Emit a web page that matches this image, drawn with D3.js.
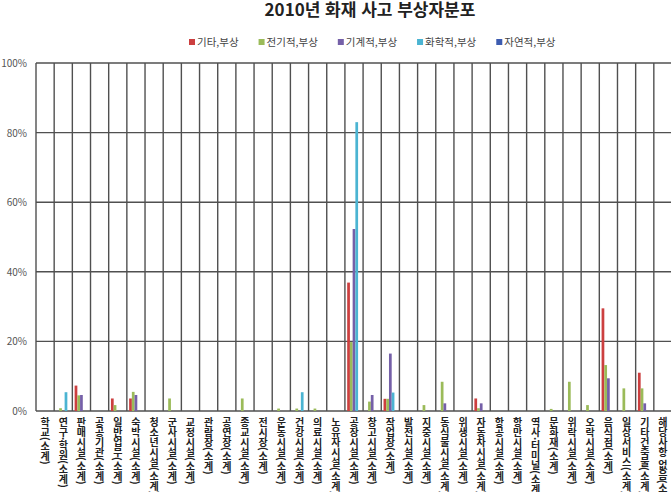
<!DOCTYPE html>
<html lang="ko">
<head>
  <meta charset="UTF-8">
  <title>2010년 화재 사고 부상자분포</title>
  <script src="https://d3js.org/d3.v7.min.js"></script>
  <style>
    body { margin: 0; background: #fff; }
    svg { display: block; font-family: "Noto Sans CJK KR", "Noto Sans", sans-serif; }
    .grid-line { stroke: #505050; stroke-width: 1.4; }
  </style>
</head>
<body>
<script>
  // Data (percent of injuries per building type, 2010)
  const categories = ['학교(소계)', '연구·학원(소계)', '판매시설(소계)', '공공기관(소계)', '일반업무(소계)',
    '숙박시설(소계)', '청소년시설(소계)', '군사시설(소계)', '교정시설(소계)', '관람장(소계)', '공연장(소계)',
    '종교시설(소계)', '전시장(소계)', '운동시설(소계)', '건강시설(소계)', '의료시설(소계)', '노유자시설(소계)',
    '공장시설(소계)', '창고시설(소계)', '작업장(소계)', '발전시설(소계)', '지중시설(소계)', '동식물시설(소계)',
    '위생시설(소계)', '자동차시설(소계)', '항공시설(소계)', '항만시설(소계)', '역사·터미널(소계)', '문화재(소계)',
    '위락시설(소계)', '오락시설(소계)', '음식점(소계)', '일상서비스(소계)', '기타건축물(소계)', '해당사항 없음(소계)'];

  const seriesNames = ['기타,부상', '전기적,부상', '기계적,부상', '화학적,부상', '자연적,부상'];

  const etcValues      = [0, 0, 7.3, 0, 3.6, 3.6, 0, 0, 0, 0, 0, 0, 0, 0, 0, 0, 0, 36.9, 0, 3.5, 0, 0, 0, 0, 3.6, 0, 0, 0, 0, 0, 0, 29.5, 0, 11.0, 0];
  const electricValues = [0, 0.8, 4.5, 0, 1.7, 5.5, 0, 3.6, 0, 0, 0, 3.6, 0, 0.7, 0.7, 0.7, 0, 19.8, 2.7, 3.5, 0, 1.7, 8.4, 0, 0.8, 0, 0, 0, 0.6, 8.4, 1.7, 13.2, 6.5, 6.5, 0];
  const mechValues     = [0, 0, 4.6, 0, 0, 4.6, 0, 0, 0, 0, 0, 0, 0, 0, 0, 0, 0, 52.3, 4.6, 16.5, 0, 0, 2.2, 0, 2.2, 0, 0, 0, 0, 0, 0, 9.4, 0, 2.2, 0];
  const chemValues     = [0, 5.4, 0, 0, 0, 0, 0, 0, 0, 0, 0, 0, 0, 0, 5.4, 0, 0, 83.0, 0, 5.3, 0, 0, 0, 0, 0, 0, 0, 0, 0, 0, 0, 0, 0, 0, 0];
  const naturalValues  = [0, 0, 0, 0, 0, 0, 0, 0, 0, 0, 0, 0, 0, 0, 0, 0, 0, 0, 0, 0, 0, 0, 0, 0, 0, 0, 0, 0, 0, 0, 0, 0, 0, 0, 0];

  const yTicks = [0, 20, 40, 60, 80, 100];

  const colors = ['#cc3f3f', '#9bbb59', '#7560a8', '#4bb4d2', '#3d5cb0'];
  const allValues = [etcValues, electricValues, mechValues, chemValues, naturalValues];

  // Layout
  const width = 671, height = 492;
  const plot = {left: 36, right: 672, top: 63, bottom: 411};

  const svg = d3.select('body').append('svg')
    .attr('width', width)
    .attr('height', height);

  const x0 = d3.scaleBand()
    .domain(categories)
    .range([plot.left, plot.right]);

  const bw = x0.bandwidth();
  const x1 = d3.scaleBand()
    .domain(seriesNames)
    .range([bw * 0.125, bw * 0.875]);

  const y = d3.scaleLinear()
    .domain([0, 100])
    .range([plot.bottom, plot.top]);

  // Title
  svg.append('text')
    .attr('x', 370)
    .attr('y', 16)
    .attr('text-anchor', 'middle')
    .style('font-size', '17px')
    .style('font-weight', 'bold')
    .attr('fill', '#222')
    .text('2010년 화재 사고 부상자분포');

  // Legend
  let lx = 189;
  seriesNames.forEach((name, i) => {
    const g = svg.append('g');
    g.append('rect')
      .attr('x', lx)
      .attr('y', 39)
      .attr('width', 6)
      .attr('height', 6)
      .attr('fill', colors[i]);
    const t = g.append('text')
      .attr('x', lx + 8)
      .attr('y', 46)
      .style('font-size', '10.5px')
      .attr('fill', '#444')
      .text(name);
    lx += 8 + t.node().getComputedTextLength() + 20;
  });

  // Gridlines
  yTicks.forEach(v => {
    svg.append('line')
      .attr('class', 'grid-line')
      .attr('x1', plot.left)
      .attr('x2', plot.right)
      .attr('y1', y(v))
      .attr('y2', y(v));
  });

  categories.forEach(c => {
    svg.append('line')
      .attr('class', 'grid-line')
      .attr('x1', x0(c))
      .attr('x2', x0(c))
      .attr('y1', plot.top)
      .attr('y2', plot.bottom);
  });
  svg.append('line')
    .attr('class', 'grid-line')
    .attr('x1', plot.right)
    .attr('x2', plot.right)
    .attr('y1', plot.top)
    .attr('y2', plot.bottom);

  // Y axis labels
  svg.append('g')
    .selectAll('text')
    .data(yTicks)
    .join('text')
    .attr('x', 27)
    .attr('y', d => y(d) + 4)
    .attr('text-anchor', 'end')
    .style('font-size', '10px')
    .attr('fill', '#555')
    .text(d => d + '%');

  // Bars
  const groups = svg.append('g')
    .selectAll('g')
    .data(categories)
    .join('g')
    .attr('transform', d => `translate(${x0(d)},0)`);

  groups.selectAll('rect')
    .data((d, i) => seriesNames.map((s, k) => ({s, v: allValues[k][i], k})))
    .join('rect')
    .attr('x', d => x1(d.s))
    .attr('y', d => y(d.v))
    .attr('width', x1.bandwidth())
    .attr('height', d => y(0) - y(d.v))
    .attr('fill', d => colors[d.k]);

  // X axis labels (vertical text)
  svg.append('g')
    .selectAll('text')
    .data(categories)
    .join('text')
    .attr('x', d => x0(d) + bw / 2)
    .attr('y', 417)
    .style('writing-mode', 'vertical-rl')
    .style('font-size', '10px')
    .style('font-weight', 'bold')
    .attr('fill', '#222')
    .text(d => d);
</script>
</body>
</html>
